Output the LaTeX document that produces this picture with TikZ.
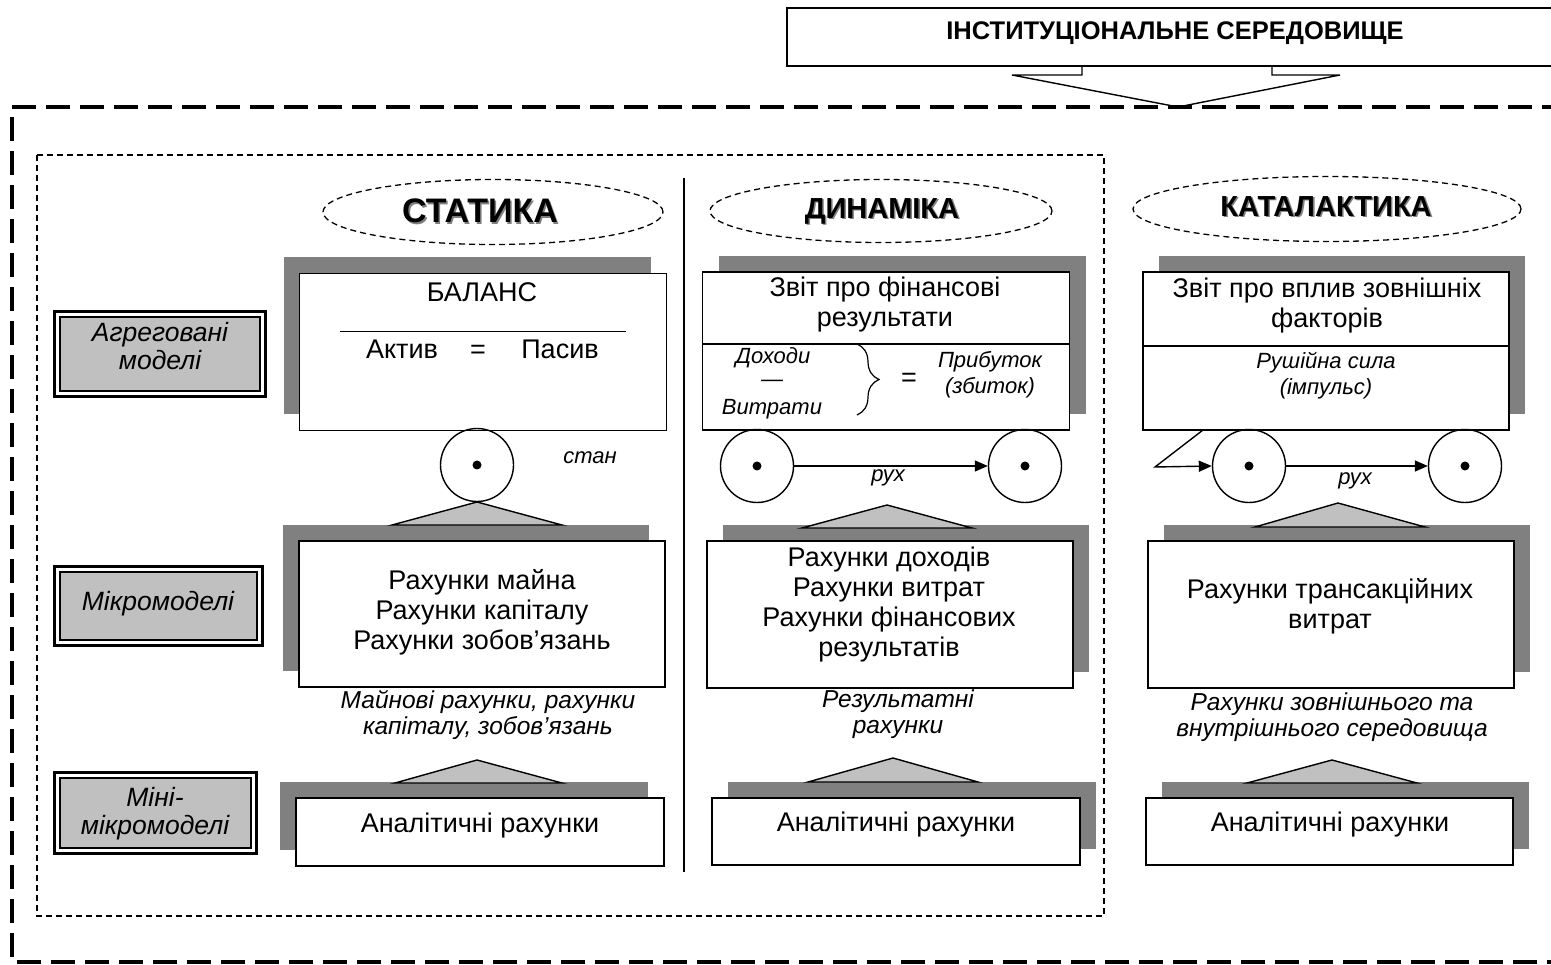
\documentclass[tikz,border=0pt]{standalone}
\usepackage{fontspec}
\setmainfont{Liberation Sans}
\usetikzlibrary{shadows,arrows.meta,decorations.pathreplacing,shapes.geometric,calc}
\definecolor{shgray}{HTML}{808080}
\definecolor{lgray}{HTML}{C0C0C0}
\newcommand\shtxt[1]{\makebox[0pt][l]{\kern1.6pt\raisebox{-1.6pt}{\color{shgray}#1}}#1}
\begin{document}
\begin{tikzpicture}[x=1pt,y=-1pt,
  box/.style={draw, line width=1.4, fill=white, inner sep=0pt},
  shL/.style={drop shadow={shadow xshift=-16pt, shadow yshift=16pt, fill=shgray, opacity=1}},
  shR/.style={drop shadow={shadow xshift=16pt, shadow yshift=16pt, fill=shgray, opacity=1}},
  txt/.style={align=center, inner sep=0pt, font=\fontsize{27}{30}\selectfont},
  itx/.style={align=center, inner sep=0pt, font=\fontsize{24.5}{26.5}\selectfont\itshape},
  stx/.style={align=center, inner sep=0pt, font=\fontsize{22}{26}\selectfont\itshape},
  lab/.style={draw, line width=1.2, fill=lgray, inner sep=0pt},
  labt/.style={align=center, inner sep=0pt, font=\fontsize{26.5}{28}\selectfont\itshape},
  ell/.style={ellipse, draw, line width=1.3, dash pattern=on 6pt off 4pt, inner sep=0pt},
  ttl/.style={inner sep=0pt, font=\fontsize{29}{33}\selectfont\bfseries},
  wheel/.style={circle, draw, line width=1.4, minimum size=73pt, inner sep=0pt},
  tri/.style={draw, line width=1.4, fill=lgray},
  arr/.style={line width=1.4, -{Triangle[length=13pt,width=11pt]}}]
\useasboundingbox (0,0) rectangle (1551,965);
\fill[white] (0,0) rectangle (1551,965);

% outer environment frame
\draw[line width=3.2, dash pattern=on 24pt off 10pt] (1600,107) -- (12,107) -- (12,962) -- (1600,962);
% inner dotted frame
\draw[line width=1.4, dash pattern=on 6pt off 4pt] (37,155) rectangle (1104,916);
% separator
\draw[line width=1.5] (684,178) -- (684,872);

% institutional environment
\node[box, minimum width=778pt, minimum height=58pt] (inst) at (1176,37) {};
\node[inner sep=0pt, font=\fontsize{25.5}{28}\selectfont\bfseries] (instt) at (1175,33) {ІНСТИТУЦІОНАЛЬНЕ СЕРЕДОВИЩЕ};
\coordinate (tip) at (1178,107);
\draw[line width=1.4] (1082,66) -- (1082,75) -- (1012,75) -- (tip) -- (1340,75) -- (1272,75) -- (1272,66);

% level labels
\node[lab, minimum width=200pt, minimum height=74pt] (l1) at (160,354) {};
\node[labt] (l1t) at (160,346) {Агреговані\\моделі};
\node[lab, minimum width=197pt, minimum height=68pt] (l2) at (158.5,606) {};
\node[labt] (l2t) at (158,604) {Мікромоделі};
\node[lab, minimum width=191pt, minimum height=70pt] (l3) at (155.5,813) {};
\node[labt] (l3t) at (155,814) {Міні-\\мікромоделі};
\foreach \l in {l1,l2,l3}
  \draw[line width=2.6] ([shift={(-5,-5)}]\l.north west) rectangle ([shift={(5,5)}]\l.south east);

% headings
\node[ell, minimum width=340pt, minimum height=65pt] (e1) at (493,212) {};
\node[ttl, font=\fontsize{34}{38}\selectfont\bfseries] (e1t) at (480,212) {\shtxt{СТАТИКА}};
\node[ell, minimum width=342pt, minimum height=63pt] (e2) at (881,211) {};
\node[ttl] (e2t) at (882,212) {\shtxt{ДИНАМІКА}};
\node[ell, minimum width=388pt, minimum height=65pt] (e3) at (1327,209) {};
\node[ttl] (e3t) at (1326,207) {\shtxt{КАТАЛАКТИКА}};

% ---------- column 1: statics ----------
\node[box, shL, minimum width=367pt, minimum height=157pt] (b1) at (483,352) {};
\node[txt] (b1t) at (482,292) {БАЛАНС};
\draw[line width=1] (340,332) -- (626,332);
\node[txt, anchor=base] (b1a) at (402,359) {Актив};
\node[txt, anchor=base] (b1e) at (478,359) {=};
\node[txt, anchor=base] (b1p) at (560,359) {Пасив};
\node[wheel] (c1) at (477,465) {};
\fill (c1.center) circle (4.5pt);
\node[stx] (stan) at (590,458) {стан};
\node[box, shL, minimum width=366pt, minimum height=146pt] (b2) at (482,614) {};
\node[txt] (b2t) at (482,612) {Рахунки майна\\Рахунки капіталу\\Рахунки зобов’язань};
\node[itx] (b2l) at (488,715) {Майнові рахунки, рахунки\\капіталу, зобов’язань};
\node[box, shL, minimum width=368pt, minimum height=68pt] (b3) at (480,832) {};
\node[txt] (b3t) at (480,826) {Аналітичні рахунки};
\draw[tri] (392,525) -- (477,502) -- (562,525) -- cycle;
\draw[tri] (395,783) -- (477,760) -- (562,783) -- cycle;

% ---------- column 2: dynamics ----------
\node[box, shR, minimum width=367pt, minimum height=158pt] (d1) at (886,351) {};
\node[txt] (d1t) at (885,305) {Звіт про фінансові\\результати};
\draw[line width=1.2] (703,344) -- (1070,344);
\node[stx] (inc) at (773,358) {Доходи};
\node[stx] (minus) at (772,383) {—};
\node[stx] (exp) at (772,409) {Витрати};
\draw[line width=1.2, decorate, decoration={brace, amplitude=22pt}] (857,344) -- (857,415);
\node[txt] (eq2) at (909,380) {=};
\node[stx] (prof) at (990,375) {Прибуток\\(збиток)};
\node[wheel] (c2a) at (757,466) {};
\node[wheel] (c2b) at (1025,466) {};
\fill (c2a.center) circle (4.5pt);
\fill (c2b.center) circle (4.5pt);
\draw[arr] (c2a.east) -- (c2b.west);
\node[stx] (rux2) at (888,478) {рух};
\node[box, shR, minimum width=366pt, minimum height=147pt] (d2) at (890,614.5) {};
\node[txt] (d2t) at (889,605) {Рахунки доходів\\Рахунки витрат\\Рахунки фінансових\\результатів};
\node[itx] (d2l) at (898,714) {Результатні\\рахунки};
\node[box, shR, minimum width=368pt, minimum height=67pt] (d3) at (896,831.5) {};
\node[txt] (d3t) at (896,825) {Аналітичні рахунки};
\draw[tri] (802,528) -- (887,505) -- (972,528) -- cycle;
\draw[tri] (808,782) -- (893,758) -- (978,782) -- cycle;

% ---------- column 3: catallactics ----------
\node[box, shR, minimum width=366pt, minimum height=158pt] (k1) at (1326,351) {};
\node[txt] (k1t) at (1327,306) {Звіт про вплив зовнішніх\\факторів};
\draw[line width=1.2] (1143,346) -- (1509,346);
\node[stx] (k1i) at (1326,376) {Рушійна сила\\(імпульс)};
\node[wheel] (c3a) at (1249,466) {};
\node[wheel] (c3b) at (1465,466) {};
\fill (c3a.center) circle (4.5pt);
\fill (c3b.center) circle (4.5pt);
\coordinate (kin) at (1203,430);
\coordinate (kbend) at (1155,467);
\draw[arr] (kin) -- (kbend) -- (c3a.west);
\draw[arr] (c3a.east) -- (c3b.west);
\node[stx] (rux3) at (1355,481) {рух};
\node[box, shR, minimum width=366pt, minimum height=147pt] (k2) at (1331,614.5) {};
\node[txt] (k2t) at (1330,606) {Рахунки трансакційних\\витрат};
\node[itx] (k2l) at (1332,717) {Рахунки зовнішнього та\\внутрішнього середовища};
\node[box, shR, minimum width=367pt, minimum height=67pt] (k3) at (1329.5,831.5) {};
\node[txt] (k3t) at (1330,825) {Аналітичні рахунки};
\draw[tri] (1255,527) -- (1338,503) -- (1425,527) -- cycle;
\draw[tri] (1247,783) -- (1332,760) -- (1417,783) -- cycle;
\end{tikzpicture}
\end{document}
